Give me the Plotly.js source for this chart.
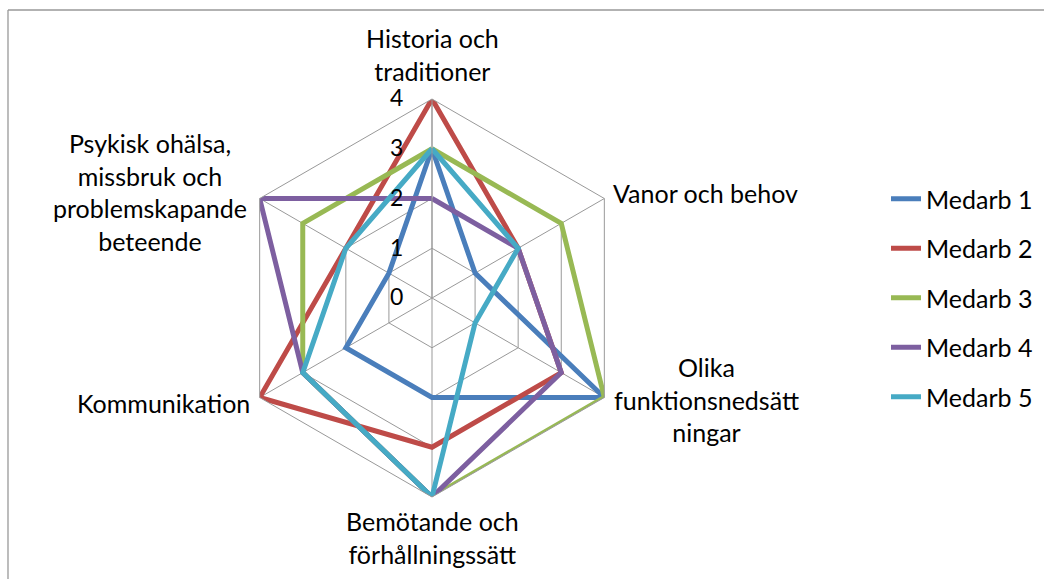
<!DOCTYPE html>
<html>
<head>
<meta charset="utf-8">
<script src="https://cdn.plot.ly/plotly-3.0.1.min.js"></script>
<style>
  html, body { margin: 0; padding: 0; background: #fff; }
  #chart { width: 1045px; height: 579px; }
</style>
</head>
<body>
<div id="chart"></div>
<script>
// ---- data ----
var categories = [
  "Historia och traditioner",
  "Vanor och behov",
  "Olika funktionsnedsättningar",
  "Bemötande och förhållningssätt",
  "Kommunikation",
  "Psykisk ohälsa, missbruk och problemskapande beteende"
];
var categoryLabels = [
  "Historia och<br>traditioner",
  "Vanor och behov",
  "Olika<br>funktionsnedsätt<br>ningar",
  "Bemötande och<br>förhållningssätt",
  "Kommunikation",
  "Psykisk ohälsa,<br>missbruk och<br>problemskapande<br>beteende"
];
var seriesNames = ["Medarb 1", "Medarb 2", "Medarb 3", "Medarb 4", "Medarb 5"];
var medarb1 = [3, 1, 4, 2, 2, 1];
var medarb2 = [4, 2, 3, 3, 4, 2];
var medarb3 = [3, 3, 4, 4, 3, 3];
var medarb4 = [2, 2, 3, 4, 3, 4];
var medarb5 = [3, 2, 1, 4, 3, 2];
var radialTicks = [0, 1, 2, 3, 4];

// ---- styling ----
var seriesValues = [medarb1, medarb2, medarb3, medarb4, medarb5];
var colors = ["#4A7EBB", "#BE4B48", "#98B954", "#7D5FA0", "#46AAC5"];
var W = 1045, H = 579;
var font = "Lato, 'Open Sans', sans-serif";
function px(x) { return x / W; }
function py(y) { return 1 - y / H; }

var traces = seriesValues.map(function (vals, i) {
  return {
    type: "scatterpolar",
    mode: "lines",
    name: seriesNames[i],
    legendgroup: "g" + i,
    r: vals.concat([vals[0]]),
    theta: categories.concat([categories[0]]),
    line: { color: colors[i], width: 5 },
    hoverinfo: "name+r+theta"
  };
});

// label positions (pixel centres in the picture)
var labelPos = [
  { x: 432, y: 54, xa: "center" },
  { x: 611, y: 193, xa: "left" },
  { x: 706, y: 399, xa: "center" },
  { x: 432, y: 537, xa: "center" },
  { x: 252, y: 403, xa: "right" },
  { x: 150, y: 192, xa: "center" }
];
var annotations = categoryLabels.map(function (t, i) {
  var p = labelPos[i];
  return {
    xref: "paper", yref: "paper",
    x: px(p.x), y: py(p.y),
    xanchor: p.xa, yanchor: "middle",
    text: t, showarrow: false, align: "center",
    font: { family: font, size: 25, color: "#000" }
  };
});

var cx = 432, cy = 298, R = 199;
var layout = {
  width: W, height: H,
  margin: { l: 0, r: 0, t: 0, b: 0 },
  paper_bgcolor: "#fff",
  showlegend: true,
  font: { family: font, color: "#000" },
  polar: {
    domain: { x: [px(cx - R), px(cx + R)], y: [py(cy + R), py(cy - R)] },
    gridshape: "linear",
    bgcolor: "rgba(0,0,0,0)",
    angularaxis: {
      type: "category",
      categoryarray: categories,
      rotation: 90,
      direction: "clockwise",
      showticklabels: false,
      ticks: "",
      showline: true,
      linecolor: "#999999",
      linewidth: 1,
      gridcolor: "#999999",
      gridwidth: 1
    },
    radialaxis: {
      range: [0, 4],
      tickvals: radialTicks,
      angle: 90,
      side: "counterclockwise",
      tickangle: 90,
      ticks: "outside",
      ticklen: 20,
      tickcolor: "rgba(0,0,0,0)",
      showline: true,
      linecolor: "#999999",
      gridcolor: "#999999",
      gridwidth: 1,
      tickfont: { family: font, size: 23, color: "#000" }
    }
  },
  legend: {
    x: px(886), y: py(176), xanchor: "left", yanchor: "top",
    font: { family: font, size: 25, color: "#000" },
    tracegroupgap: 14,
    bgcolor: "rgba(0,0,0,0)"
  },
  annotations: annotations,
  shapes: [
    { type: "line", xref: "paper", yref: "paper", x0: px(8), x1: px(1044), y0: py(10), y1: py(10),
      line: { color: "#999999", width: 1.3 } },
    { type: "line", xref: "paper", yref: "paper", x0: px(8), x1: px(8), y0: py(10), y1: 0,
      line: { color: "#999999", width: 1.3 } }
  ]
};

Plotly.newPlot("chart", traces, layout, { displayModeBar: false, staticPlot: true });
</script>
</body>
</html>
